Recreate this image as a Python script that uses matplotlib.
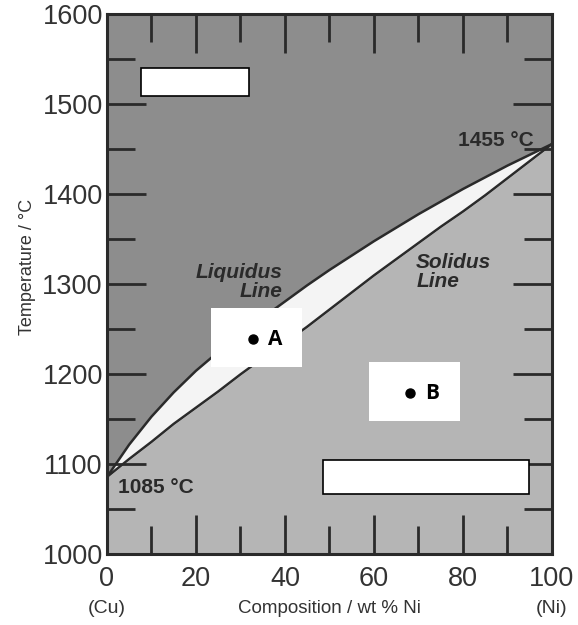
import matplotlib
matplotlib.use('Agg')
import matplotlib.pyplot as plt
from matplotlib.patches import Rectangle
from matplotlib.ticker import MultipleLocator

plt.rcParams['font.family'] = ['Liberation Sans', 'DejaVu Sans']

# 成分 (wt % Ni) 与液相线/固相线温度 (°C)
wt_ni = [0, 5, 10, 15, 20, 25, 30, 35, 40, 45, 50,
         55, 60, 65, 70, 75, 80, 85, 90, 95, 100]
liquidus = [1085, 1121, 1152, 1179, 1203, 1224, 1244, 1262, 1280, 1298, 1315,
            1331, 1347, 1362, 1377, 1391, 1405, 1418, 1431, 1443, 1455]
solidus = [1085, 1105, 1124, 1144, 1162, 1180, 1199, 1217, 1234, 1252, 1271,
           1290, 1309, 1327, 1345, 1363, 1380, 1398, 1417, 1436, 1455]

# 标记点
points = ['A', 'B']
point_x = [32.8, 68.2]
point_t = [1238, 1178]

x_ticks = [0, 20, 40, 60, 80, 100]
y_ticks = [1000, 1100, 1200, 1300, 1400, 1500, 1600]

line_col = '#2a2a2a'
text_col = '#333333'

fig = plt.figure(figsize=(5.78, 6.25), dpi=100)
ax = fig.add_axes([0.185, 0.1144, 0.770, 0.864])
ax.set_xlim(0, 100)
ax.set_ylim(1000, 1600)

# 区域填充：液相（深灰）、固相（浅灰）、两相区（白）
ax.fill_between(wt_ni, liquidus, 1600, color='#8d8d8d', zorder=0)
ax.fill_between(wt_ni, 1000, solidus, color='#b5b5b5', zorder=0)
ax.fill_between(wt_ni, solidus, liquidus, color='#f4f4f4', zorder=0)

ax.plot(wt_ni, liquidus, color=line_col, lw=1.8, zorder=2)
ax.plot(wt_ni, solidus, color=line_col, lw=1.8, zorder=2)

# 坐标轴与刻度
for s in ax.spines.values():
    s.set_linewidth(2.2)
    s.set_color(line_col)
ax.set_xticks(x_ticks)
ax.set_yticks(y_ticks)
ax.xaxis.set_minor_locator(MultipleLocator(10))
ax.yaxis.set_minor_locator(MultipleLocator(50))
ax.tick_params(which='major', direction='in', length=28, width=2, color=line_col,
               top=True, right=True, labelsize=19.5, labelcolor=text_col, pad=3)
ax.tick_params(which='minor', direction='in', length=20, width=2, color=line_col,
               top=True, right=True)
ax.tick_params(axis='x', which='major', pad=9)
ax.set_xlabel('Composition / wt % Ni', fontsize=13.5, color=text_col)
ax.xaxis.set_label_coords(0.5, -0.086)
ax.set_ylabel('Temperature / °C', fontsize=13, color=text_col)
ax.yaxis.set_label_coords(-0.16, 0.53)
ax.text(0, 939, '(Cu)', ha='center', va='center', fontsize=14, color=text_col,
        clip_on=False)
ax.text(100, 939, '(Ni)', ha='center', va='center', fontsize=14, color=text_col,
        clip_on=False)

# 曲线标注
lab = dict(fontsize=15, fontweight='bold', color='#2a2a2a', zorder=3)
ax.text(39.4, 1302, 'Liquidus\nLine', ha='right', va='center', multialignment='right',
        style='italic', linespacing=1.0, **lab)
ax.text(69.5, 1313, 'Solidus\nLine', ha='left', va='center', style='italic',
        linespacing=1.0, **lab)
ax.text(95.8, 1459, '1455 °C', ha='right', va='center', **lab)
ax.text(2.5, 1073, '1085 °C', ha='left', va='center', **lab)

# 白色遮盖框
ax.add_patch(Rectangle((7.7, 1508), 24.3, 31, facecolor='white', edgecolor='black',
                       lw=1.2, zorder=4))
ax.add_patch(Rectangle((48.6, 1066), 46.3, 38, facecolor='white', edgecolor='black',
                       lw=1.2, zorder=4))
ax.add_patch(Rectangle((23.4, 1207), 20.5, 66, facecolor='white', edgecolor='none', zorder=4))
ax.add_patch(Rectangle((58.9, 1147), 20.5, 66, facecolor='white', edgecolor='none', zorder=4))

for name, px, pt in zip(points, point_x, point_t):
    ax.plot(px, pt, 'o', color='black', ms=6.5, zorder=5)
    ax.text(px + 3.3, pt, name, ha='left', va='center', fontsize=15, fontweight='bold',
            family=['Open Sans', 'DejaVu Sans'], color='black', zorder=5)

fig.savefig('out.png', dpi=100)
